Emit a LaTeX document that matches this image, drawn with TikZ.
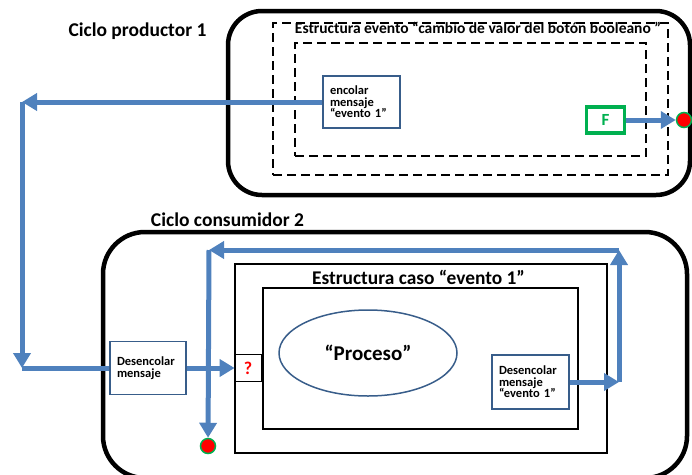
\documentclass[tikz,border=0pt]{standalone}
\usepackage{fontspec}
\setmainfont{Carlito}
\usepackage{tikz}
\usetikzlibrary{positioning,calc,arrows.meta,shapes.geometric}
\usepackage{xcolor}

\definecolor{flowblue}{RGB}{79,129,189}
\definecolor{boxblue}{RGB}{56,93,138}
\definecolor{okgreen}{RGB}{0,176,80}

\tikzset{
  cycle/.style={draw, line width=4.5pt, rounded corners=34pt},
  evtframe/.style={draw, line width=1.6pt, dash pattern=on 9pt off 5pt},
  caseframe/.style={draw, line width=1.8pt},
  msgbox/.style={draw=boxblue, line width=1.4pt, fill=white, align=left,
    inner xsep=7pt, font=\bfseries\fontsize{12.5}{11.5}\selectfont},
  flow/.style={draw=flowblue, line width=5pt, -{Triangle[length=15pt,width=17pt]}},
  wire/.style={draw=flowblue, line width=5pt},
  stopdot/.style={circle, draw=okgreen, line width=1.5pt, fill=red,
    minimum size=15pt, inner sep=0pt},
  title/.style={font=\bfseries\fontsize{19.5}{22}\selectfont}
}

\begin{document}
\begin{tikzpicture}[x=1pt,y=-1pt]
  \useasboundingbox (0,0) rectangle (692,474);

  % ciclo productor
  \node[cycle, minimum width=462pt, minimum height=184pt] (prod) at (459,103) {};
  \node[evtframe, minimum width=395pt, minimum height=152pt] (evtout) at (470.5,99) {};
  \node[evtframe, minimum width=351pt, minimum height=113pt] (evtin) at (470.5,99.5) {};
  \node[title] (prodlbl) at (137.5,31) {Ciclo productor 1};
  \node[font=\bfseries\fontsize{15.5}{17}\selectfont] (evtlbl) at (478,28)
    {Estructura evento “cambio de valor del botón booleano ”};
  \node[msgbox, text width=63pt, minimum height=52pt] (enc) at (361.5,102)
    {encolar\\mensaje\\“evento 1”};
  \node[draw=okgreen, line width=3.2pt, minimum width=38pt, minimum height=26pt,
    text=okgreen, font=\bfseries\fontsize{17}{18}\selectfont] (fbox) at (605.5,120) {F};
  \node[stopdot] (dot1) at (684,120) {};

  % ciclo consumidor
  \node[cycle, rounded corners=42pt, minimum width=584pt, minimum height=246pt] (cons) at (395,355) {};
  \node[title] (conslbl) at (227.5,220) {Ciclo consumidor 2};
  \node[caseframe, minimum width=372pt, minimum height=189pt] (caso) at (421,358.5) {};
  \node[caseframe, minimum width=315pt, minimum height=141pt] (casoin) at (420.5,358.5) {};
  \node[font=\bfseries\fontsize{19.4}{22}\selectfont] (casolbl) at (418.5,277) {Estructura caso “evento 1”};
  \node[ellipse, draw=boxblue, line width=1.5pt, minimum width=178pt, minimum height=86pt,
    font=\bfseries\fontsize{21}{24}\selectfont] (proc) at (368,353) {“Proceso”};
  \node[draw, line width=0.8pt, fill=white, minimum width=26pt, minimum height=27pt,
    text=red, font=\bfseries\fontsize{18}{19}\selectfont] (qbox) at (248,368) {?};
  \node[msgbox, text width=62pt, minimum height=53pt] (des1) at (148,368)
    {Desencolar\\mensaje};
  \node[msgbox, text width=63pt, minimum height=54pt] (des2) at (530.5,382)
    {Desencolar\\mensaje\\“evento 1”};
  \node[stopdot] (dot2) at (208,446) {};

  \coordinate (c1) at (22,102);
  \coordinate (c2) at (22,368);
  \coordinate (c3) at (209,250);
  \coordinate (c4) at (619,250);
  \coordinate (c5) at (619,382);

  % flujos
  \draw[flow] (fbox) -- (dot1);
  \draw[flow] (enc) -- (c1);
  \draw[flow] (c1) -- (c2);
  \draw[wire] (c2) -- (des1);
  \draw[flow] (des1) -- (qbox);
  \draw[flow] (des2) -- (c5);
  \draw[flow] (c5) -- (c4);
  \draw[flow] (c4) -- (c3);
  \draw[flow] (c3) -- (dot2);
\end{tikzpicture}
\end{document}
